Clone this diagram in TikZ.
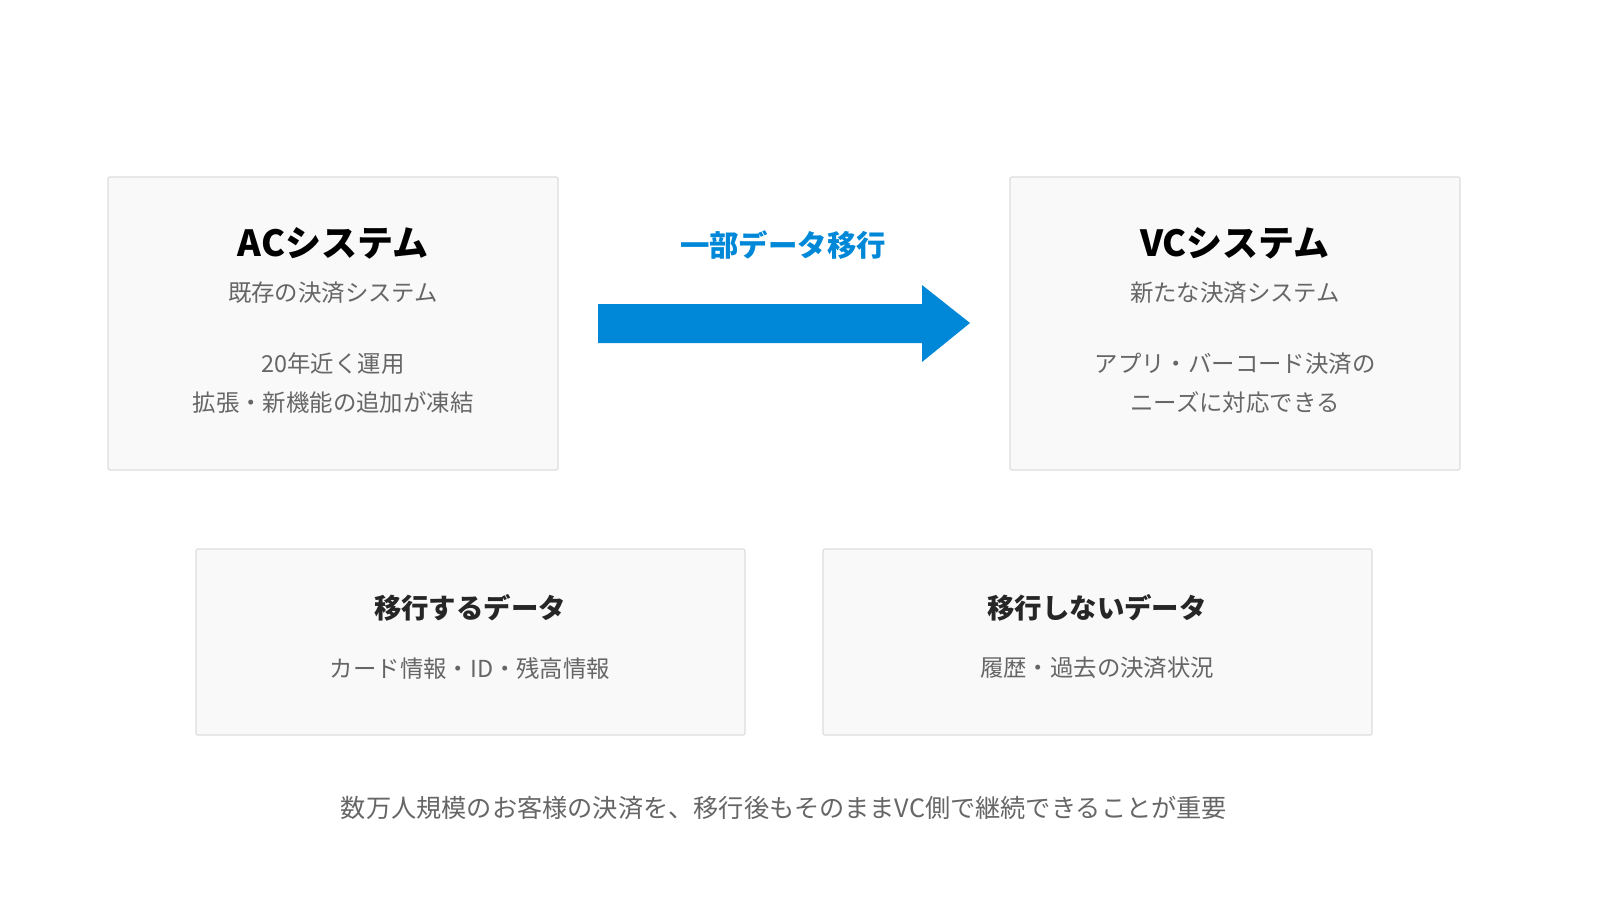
\documentclass[tikz,border=0pt]{standalone}
\usepackage{fontspec}
\setmainfont{Noto Sans CJK JP}
\usetikzlibrary{positioning}
\definecolor{boxfill}{HTML}{F9F9F9}
\definecolor{boxline}{HTML}{DDDDDD}
\definecolor{subgray}{HTML}{666666}
\definecolor{arrowblue}{HTML}{0088D8}
\tikzset{
  panel/.style={draw=boxline, line width=0.6pt, fill=boxfill, rounded corners=1pt},
  bigtitle/.style={font=\fontsize{18}{21}\selectfont\bfseries, text=black},
  smalltitle/.style={font=\fontsize{13.7}{16}\selectfont\bfseries, text=black!85},
  note/.style={font=\fontsize{11.7}{19.5}\selectfont, text=subgray, align=center}
}
\begin{document}
\begin{tikzpicture}[x=0.5pt,y=-0.5pt]
\useasboundingbox (0,0) rectangle (1600,900);
% upper boxes
\draw[panel] (108,177) rectangle (558,470);
\draw[panel] (1010,177) rectangle (1460,470);
\node[bigtitle] (ac) at (333,243) {ACシステム};
\node[note] (acsub) at (333,293) {既存の決済システム};
\node[note] (acnote) at (333,383) {20年近く運用\\拡張・新機能の追加が凍結};
\node[bigtitle] (vc) at (1235,243) {VCシステム};
\node[note] (vcsub) at (1235,293) {新たな決済システム};
\node[note] (vcnote) at (1235,383) {アプリ・バーコード決済の\\ニーズに対応できる};
% arrow
\node[font=\fontsize{14.7}{17}\selectfont\bfseries, text=arrowblue] (mig) at (783,245) {一部データ移行};
\fill[arrowblue] (598,304) -- (922,304) -- (922,285) -- (970,323) -- (922,362) -- (922,343) -- (598,343) -- cycle;
% lower boxes
\draw[panel] (196,549) rectangle (745,735);
\draw[panel] (823,549) rectangle (1372,735);
\node[smalltitle] (moved) at (470,608) {移行するデータ};
\node[note] (movednote) at (470,668) {カード情報・ID・残高情報};
\node[smalltitle] (kept) at (1097,608) {移行しないデータ};
\node[note] (keptnote) at (1097,668) {履歴・過去の決済状況};
% footer
\node[note, font=\fontsize{12.6}{15}\selectfont] (foot) at (784,808) {数万人規模のお客様の決済を、移行後もそのままVC側で継続できることが重要};
\end{tikzpicture}
\end{document}
